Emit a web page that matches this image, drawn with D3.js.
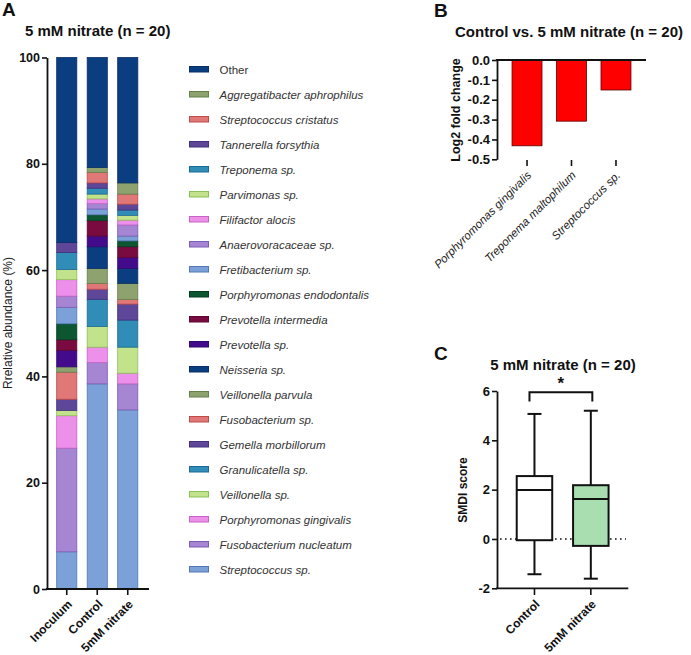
<!DOCTYPE html>
<html><head><meta charset="utf-8">
<script src="https://cdn.jsdelivr.net/npm/d3@7"></script>
<style>
html,body{margin:0;padding:0;background:#fff;}
svg{display:block;font-family:"Liberation Sans",Arial,Helvetica,sans-serif;}
</style></head>
<body>
<svg id="chart" width="691" height="655"></svg>
<script>
// ---------- Panel A data ----------
const groups = ["Inoculum", "Control", "5mM nitrate"];
// stack order: bottom -> top
const taxa = ["Streptococcus sp.", "Fusobacterium nucleatum", "Porphyromonas gingivalis", "Veillonella sp.",
  "Granulicatella sp.", "Gemella morbillorum", "Fusobacterium sp.", "Veillonella parvula", "Neisseria sp.",
  "Prevotella sp.", "Prevotella intermedia", "Porphyromonas endodontalis", "Fretibacterium sp.",
  "Anaerovoracaceae sp.", "Filifactor alocis", "Parvimonas sp.", "Treponema sp.", "Tannerella forsythia",
  "Streptococcus cristatus", "Aggregatibacter aphrophilus", "Other"];
const inoculumValues = [7.0, 19.5, 6.1, 1.0, 0.0, 2.1, 5.1, 1.0, 0.0, 3.1, 2.0, 3.0, 3.1, 2.1, 3.1, 1.9, 3.2, 1.9, 0.0, 0.0, 34.8];
const controlValues  = [38.6, 4.0, 2.9, 3.9, 5.1, 1.9, 1.1, 2.8, 4.1, 2.0, 2.9, 1.1, 1.1, 1.0, 0.9, 0.9, 1.1, 1.0, 2.0, 0.9, 20.7];
const nitrateValues  = [33.7, 4.9, 2.0, 4.9, 5.1, 3.0, 0.9, 3.0, 2.8, 2.1, 2.0, 1.1, 0.9, 2.1, 0.9, 0.9, 1.0, 1.1, 1.9, 2.1, 23.6];
const abundanceTicks = [0, 20, 40, 60, 80, 100];

// ---------- Panel B data ----------
const fcTaxa = ["Porphyromonas gingivalis", "Treponema maltophilum", "Streptococcus sp."];
const fcValues = [-0.432, -0.308, -0.151];
const fcTicks = [0.0, -0.1, -0.2, -0.3, -0.4, -0.5];

// ---------- Panel C data ----------
const boxGroups = ["Control", "5mM nitrate"];
const boxMin = [-1.43, -1.61];
const boxQ1 = [-0.05, -0.28];
const boxMedian = [1.99, 1.62];
const boxQ3 = [2.55, 2.18];
const boxMax = [5.07, 5.2];
const smdiTicks = [-2, 0, 2, 4, 6];

// ---------- styles ----------
const palFill   = ["#7ca1d8","#a686d3","#ec90ea","#c2e38c","#2f8db8","#5e4799","#e07878","#8da26f","#0b3e80","#430b8c","#7a0b40","#0d5632"];
const palStroke = ["#5277b5","#7d5cb6","#c862c6","#8dbf58","#1f6a94","#42307a","#c04a4a","#64804b","#0a2f66","#2f0870","#5c0830","#073d22"];

const svg = d3.select("#chart");
const bold = "bold";

// ================= PANEL A =================
const yA = d3.scaleLinear().domain([0, 100]).range([589, 57.5]);
const xA = d3.scaleBand().domain(groups).range([51.5, 143]).paddingInner(0.34).paddingOuter(0.17);

const table = groups.map((g, gi) => {
  const row = {group: g};
  const src = [inoculumValues, controlValues, nitrateValues][gi];
  taxa.forEach((t, ti) => row[t] = src[ti]);
  return row;
});
const stackA = d3.stack().keys(taxa)(table);

const gA = svg.append("g");
stackA.forEach((layer, li) => {
  gA.selectAll(null).data(layer.filter(d => d[1] - d[0] > 0)).enter().append("rect")
    .attr("x", d => xA(d.data.group))
    .attr("width", xA.bandwidth())
    .attr("y", d => yA(d[1]))
    .attr("height", d => yA(d[0]) - yA(d[1]))
    .attr("fill", palFill[li % 12])
    .attr("stroke", palStroke[li % 12])
    .attr("stroke-width", 0.8);
});

// y axis A
const axA = svg.append("g").attr("transform", "translate(47,0)")
  .call(d3.axisLeft(yA).tickValues(abundanceTicks).tickSize(5).tickSizeOuter(0));
axA.select(".domain").attr("stroke", "#111").attr("stroke-width", 1.8);
axA.selectAll(".tick line").attr("stroke", "#111").attr("stroke-width", 1.6);
axA.selectAll(".tick text").attr("font-size", 12.5).attr("font-weight", bold).attr("fill", "#111")
  .attr("x", -7).attr("font-family", "Liberation Sans, Arial, sans-serif");

// x axis A
svg.append("line").attr("x1", 46).attr("x2", 149).attr("y1", 589).attr("y2", 589)
  .attr("stroke", "#111").attr("stroke-width", 1.8);
const axAx = svg.append("g").attr("transform", "translate(0,589)")
  .call(d3.axisBottom(xA).tickSize(6).tickSizeOuter(0));
axAx.select(".domain").remove();
axAx.selectAll(".tick line").attr("stroke", "#111").attr("stroke-width", 1.6);
axAx.selectAll(".tick text")
  .attr("font-size", 12).attr("font-weight", bold).attr("fill", "#111")
  .attr("font-family", "Liberation Sans, Arial, sans-serif")
  .attr("text-anchor", "end").attr("dy", null).attr("y", 0)
  .attr("transform", "translate(6,16) rotate(-45)");

svg.append("text").attr("transform", "translate(12,323) rotate(-90)")
  .attr("text-anchor", "middle").attr("font-size", 12).attr("fill", "#222")
  .text("Rrelative abundance (%)");

svg.append("text").attr("x", 25).attr("y", 36).attr("font-size", 15).attr("font-weight", bold)
  .attr("fill", "#111").text("5 mM nitrate (n = 20)");
svg.append("text").attr("x", 2).attr("y", 16).attr("font-size", 19).attr("font-weight", bold)
  .attr("fill", "#111").text("A");

// legend
const legendOrder = taxa.slice().reverse();
const legend = svg.append("g");
legendOrder.forEach((t, i) => {
  const li = taxa.indexOf(t);
  const y = 69.5 + i * 25;
  legend.append("rect").attr("x", 189.5).attr("y", y - 3).attr("width", 19).attr("height", 5.5)
    .attr("fill", palFill[li % 12]).attr("stroke", palStroke[li % 12]).attr("stroke-width", 1);
  legend.append("text").attr("x", 219.5).attr("y", y + 4).attr("font-size", 11.5)
    .attr("font-style", t === "Other" ? "normal" : "italic").attr("fill", "#333").text(t);
});

// ================= PANEL B =================
const yB = d3.scaleLinear().domain([-0.5, 0]).range([159.3, 60]);
const xB = d3.scaleBand().domain(fcTaxa).range([497, 646]).paddingInner(0.326).paddingOuter(0.338);

svg.selectAll(null).data(fcValues).enter().append("rect")
  .attr("x", (d, i) => xB(fcTaxa[i]))
  .attr("width", xB.bandwidth())
  .attr("y", yB(0))
  .attr("height", d => yB(d) - yB(0))
  .attr("fill", "#ff0000").attr("stroke", "#5a0000").attr("stroke-width", 0.8);

const axB = svg.append("g").attr("transform", "translate(497,0)")
  .call(d3.axisLeft(yB).tickValues(fcTicks).tickFormat(d3.format(".1f")).tickSize(5).tickSizeOuter(0));
axB.select(".domain").attr("stroke", "#111").attr("stroke-width", 1.8);
axB.selectAll(".tick line").attr("stroke", "#111").attr("stroke-width", 1.6);
axB.selectAll(".tick text").attr("font-size", 13).attr("font-weight", bold).attr("fill", "#111")
  .attr("x", -7).attr("font-family", "Liberation Sans, Arial, sans-serif")
  .text(d => d3.format(".1f")(d).replace("−", "-"));

svg.append("line").attr("x1", 496).attr("x2", 646).attr("y1", yB(0)).attr("y2", yB(0))
  .attr("stroke", "#111").attr("stroke-width", 1.8);
const axBx = svg.append("g").attr("transform", "translate(0,160)")
  .call(d3.axisBottom(xB).tickSize(6).tickSizeOuter(0));
axBx.select(".domain").remove();
axBx.selectAll(".tick line").attr("stroke", "#111").attr("stroke-width", 1.6);
axBx.selectAll(".tick text")
  .attr("font-size", 11.5).attr("font-style", "italic").attr("fill", "#222")
  .attr("font-family", "Liberation Sans, Arial, sans-serif")
  .attr("text-anchor", "end").attr("dy", null).attr("y", 0)
  .attr("transform", "translate(5,16) rotate(-45)");

svg.append("text").attr("transform", "translate(460,110) rotate(-90)")
  .attr("text-anchor", "middle").attr("font-size", 12.5).attr("font-weight", bold).attr("fill", "#111")
  .text("Log2 fold change");
svg.append("text").attr("x", 569).attr("y", 37).attr("text-anchor", "middle").attr("font-size", 15)
  .attr("font-weight", bold).attr("fill", "#111").text("Control vs. 5 mM nitrate (n = 20)");
svg.append("text").attr("x", 434).attr("y", 17).attr("font-size", 19).attr("font-weight", bold)
  .attr("fill", "#111").text("B");

// ================= PANEL C =================
const yC = d3.scaleLinear().domain([-2, 6]).range([588.3, 391]);
const xC = d3.scaleBand().domain(boxGroups).range([497, 628.3]).paddingInner(0.37).paddingOuter(0.35);
const boxFill = ["#ffffff", "#a9deb0"];

// dotted zero line
svg.append("line").attr("x1", 500).attr("x2", 626).attr("y1", yC(0)).attr("y2", yC(0))
  .attr("stroke", "#111").attr("stroke-width", 1.6).attr("stroke-dasharray", "1.6,3.4");

boxGroups.forEach((g, i) => {
  const x0 = xC(g), w = xC.bandwidth(), cx = x0 + w / 2;
  const gg = svg.append("g").attr("stroke", "#111").attr("stroke-width", 2).attr("fill", "none");
  gg.append("line").attr("x1", cx).attr("x2", cx).attr("y1", yC(boxMax[i])).attr("y2", yC(boxQ3[i]));
  gg.append("line").attr("x1", cx).attr("x2", cx).attr("y1", yC(boxQ1[i])).attr("y2", yC(boxMin[i]));
  gg.append("line").attr("x1", cx - 7).attr("x2", cx + 7).attr("y1", yC(boxMax[i])).attr("y2", yC(boxMax[i]));
  gg.append("line").attr("x1", cx - 7).attr("x2", cx + 7).attr("y1", yC(boxMin[i])).attr("y2", yC(boxMin[i]));
  gg.append("rect").attr("x", x0).attr("width", w).attr("y", yC(boxQ3[i]))
    .attr("height", yC(boxQ1[i]) - yC(boxQ3[i])).attr("fill", boxFill[i]);
  gg.append("line").attr("x1", x0).attr("x2", x0 + w).attr("y1", yC(boxMedian[i])).attr("y2", yC(boxMedian[i]));
});

const axC = svg.append("g").attr("transform", "translate(497,0)")
  .call(d3.axisLeft(yC).tickValues(smdiTicks).tickSize(5).tickSizeOuter(0));
axC.select(".domain").attr("stroke", "#111").attr("stroke-width", 1.8);
axC.selectAll(".tick line").attr("stroke", "#111").attr("stroke-width", 1.6);
axC.selectAll(".tick text").attr("font-size", 13).attr("font-weight", bold).attr("fill", "#111")
  .attr("x", -7).attr("font-family", "Liberation Sans, Arial, sans-serif")
  .text(d => String(d));

svg.append("line").attr("x1", 496).attr("x2", 628.3).attr("y1", 588.3).attr("y2", 588.3)
  .attr("stroke", "#111").attr("stroke-width", 1.8);
const axCx = svg.append("g").attr("transform", "translate(0,589)")
  .call(d3.axisBottom(xC).tickSize(6).tickSizeOuter(0));
axCx.select(".domain").remove();
axCx.selectAll(".tick line").attr("stroke", "#111").attr("stroke-width", 1.6);
axCx.selectAll(".tick text")
  .attr("font-size", 12).attr("font-weight", bold).attr("fill", "#111")
  .attr("font-family", "Liberation Sans, Arial, sans-serif")
  .attr("text-anchor", "end").attr("dy", null).attr("y", 0)
  .attr("transform", "translate(6,16) rotate(-45)");

// significance bracket
const bx1 = xC(boxGroups[0]) + xC.bandwidth() / 2 - 5;
const bx2 = xC(boxGroups[1]) + xC.bandwidth() / 2 + 1.5;
svg.append("path")
  .attr("d", `M${bx1},${yC(5.57)}V${yC(5.95)}H${bx2}V${yC(5.57)}`)
  .attr("fill", "none").attr("stroke", "#111").attr("stroke-width", 2);
svg.append("text").attr("x", (bx1 + bx2) / 2).attr("y", 389).attr("text-anchor", "middle")
  .attr("font-size", 17).attr("font-weight", bold).attr("fill", "#111").text("*");

svg.append("text").attr("transform", "translate(467,490) rotate(-90)")
  .attr("text-anchor", "middle").attr("font-size", 12).attr("font-weight", bold).attr("fill", "#111")
  .text("SMDI score");
svg.append("text").attr("x", 563).attr("y", 370).attr("text-anchor", "middle").attr("font-size", 15)
  .attr("font-weight", bold).attr("fill", "#111").text("5 mM nitrate (n = 20)");
svg.append("text").attr("x", 434).attr("y", 360).attr("font-size", 19).attr("font-weight", bold)
  .attr("fill", "#111").text("C");
</script>
</body></html>
